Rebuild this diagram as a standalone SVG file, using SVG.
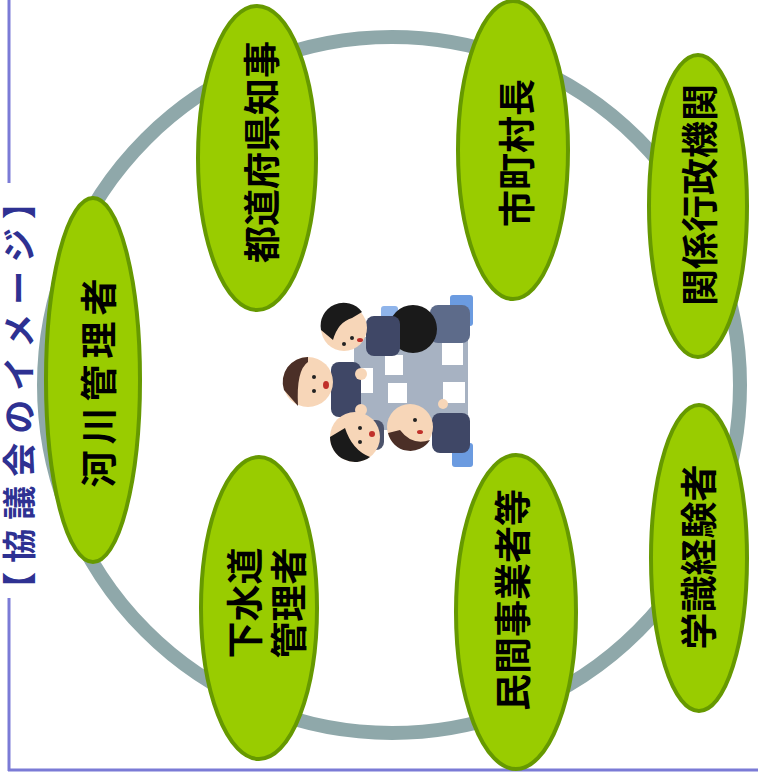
<svg xmlns="http://www.w3.org/2000/svg" width="758" height="776" viewBox="0 0 758 776">
  <style>
    .frame { stroke: #7b7bd6; stroke-width: 3; fill: none; }
    .ring { fill: none; stroke: #8fa8aa; stroke-width: 14; }
    .member ellipse { fill: #99cc00; stroke: #669900; stroke-width: 4; }
    .member text { font-family: "Noto Sans CJK JP", "Noto Sans", sans-serif; font-size: 37px; font-weight: 700; fill: #000; text-anchor: middle; dominant-baseline: central; }
    .title { font-family: "Noto Sans CJK JP", "Noto Sans", sans-serif; font-size: 34px; font-weight: 700; fill: #2e3192; text-anchor: middle; letter-spacing: 9px; }
    .face { fill: #f7d6b8; }
    .hair { fill: #1a1a1a; }
    .brown { fill: #4b2f27; }
    .suit { fill: #3f4766; }
    .paper { fill: #ffffff; }
    .chair { fill: #6b9be0; }
  </style>

  <!-- outer frame with the title cut into the left edge -->
  <g id="frame">
    <line class="frame" x1="9" y1="0" x2="9" y2="183"/>
    <line class="frame" x1="9" y1="598" x2="9" y2="771"/>
    <line class="frame" x1="8" y1="770" x2="758" y2="770"/>
    <text class="title" transform="rotate(-90 32 391)" x="32" y="391">【協議会のイメージ】</text>
  </g>

  <!-- ring linking the members -->
  <g id="connectors">
    <circle class="ring" cx="392" cy="385" r="348"/>
  </g>

  <!-- meeting illustration in the centre -->
  <g id="meeting">
    <rect x="354" y="337" width="114" height="93" fill="#a7b2c2"/>
    <rect class="chair" x="450" y="295" width="23" height="31" rx="3"/>
    <rect class="chair" x="452" y="443" width="21" height="24" rx="3"/>
    <rect x="381" y="306" width="17" height="17" rx="3" fill="#8fb4ea"/>
    <rect class="paper" x="385" y="355" width="18" height="20"/>
    <rect class="paper" x="442" y="342" width="21" height="23"/>
    <rect class="paper" x="358" y="368" width="15" height="25"/>
    <rect class="paper" x="388" y="383" width="19" height="20"/>
    <rect class="paper" x="443" y="382" width="22" height="21"/>
    <!-- seated from behind -->
    <rect x="430" y="305" width="40" height="38" rx="8" fill="#5d6b8a"/>
    <circle class="hair" cx="413" cy="329" r="24"/>
    <!-- woman, upper left -->
    <rect class="suit" x="366" y="316" width="34" height="40" rx="8" fill="#4c536b"/>
    <circle class="face" cx="344" cy="328" r="23"/>
    <path class="hair" d="M321 330 A23 23 0 0 1 362 312 L352 318 Q338 322 333 340 Z"/>
    <circle cx="352" cy="338" r="2" fill="#222"/>
    <circle cx="344" cy="344" r="2" fill="#222"/>
    <ellipse cx="360" cy="340" rx="3" ry="2" fill="#c0302a"/>
    <!-- man, left -->
    <rect class="suit" x="331" y="362" width="30" height="55" rx="8"/>
    <circle cx="361" cy="374" r="6" class="face"/>
    <circle cx="361" cy="410" r="6" class="face"/>
    <circle class="face" cx="308" cy="382" r="25"/>
    <path class="brown" d="M284 390 A25 25 0 0 1 308 357 L308 362 Q296 370 298 406 Z"/>
    <circle cx="314" cy="377" r="2" fill="#222"/>
    <circle cx="314" cy="391" r="2" fill="#222"/>
    <ellipse cx="326" cy="385" rx="3" ry="4" fill="#c0302a"/>
    <!-- woman, lower left -->
    <rect x="352" y="420" width="32" height="30" rx="8" fill="#4c536b"/>
    <circle class="face" cx="355" cy="437" r="25"/>
    <path class="hair" d="M330 437 A25 25 0 0 0 370 457 Q352 450 345 428 Z"/>
    <circle cx="360" cy="428" r="2" fill="#222"/>
    <circle cx="360" cy="442" r="2" fill="#222"/>
    <ellipse cx="372" cy="434" rx="3" ry="3" fill="#c0302a"/>
    <!-- woman, lower right -->
    <rect class="suit" x="432" y="413" width="38" height="40" rx="8"/>
    <circle class="face" cx="443" cy="404" r="5"/>
    <circle class="face" cx="410" cy="427" r="23"/>
    <path class="brown" d="M388 433 A23 23 0 0 0 430 440 Q412 446 400 430 Z"/>
    <circle cx="415" cy="420" r="2" fill="#222"/>
    <ellipse cx="420" cy="432" rx="3" ry="2" fill="#c0302a"/>
  </g>

  <!-- member groups -->
  <g id="node-kasen" class="member">
    <ellipse cx="93" cy="380" rx="47" ry="182"/>
    <text transform="rotate(-90 97 380)" x="97" y="380" style="letter-spacing:6px">河川管理者</text>
  </g>
  <g id="node-todofuken" class="member">
    <ellipse cx="257" cy="158" rx="59" ry="152"/>
    <text transform="rotate(-90 260 152)" x="260" y="152">都道府県知事</text>
  </g>
  <g id="node-shichoson" class="member">
    <ellipse cx="513" cy="150" rx="55" ry="149"/>
    <text transform="rotate(-90 515 153)" x="515" y="153">市町村長</text>
  </g>
  <g id="node-gyosei" class="member">
    <ellipse cx="698" cy="206" rx="49" ry="151"/>
    <text transform="rotate(-90 698 195)" x="698" y="195">関係行政機関</text>
  </g>
  <g id="node-gakushiki" class="member">
    <ellipse cx="699" cy="558" rx="48" ry="153"/>
    <text transform="rotate(-90 697 557)" x="697" y="557">学識経験者</text>
  </g>
  <g id="node-minkan" class="member">
    <ellipse cx="516" cy="612" rx="60" ry="157"/>
    <text transform="rotate(-90 511 600)" x="511" y="600">民間事業者等</text>
  </g>
  <g id="node-gesuido" class="member">
    <ellipse cx="259" cy="608" rx="58" ry="151"/>
    <text transform="rotate(-90 243 603)" x="243" y="603">下水道</text>
    <text transform="rotate(-90 287 603)" x="287" y="603">管理者</text>
  </g>
</svg>
